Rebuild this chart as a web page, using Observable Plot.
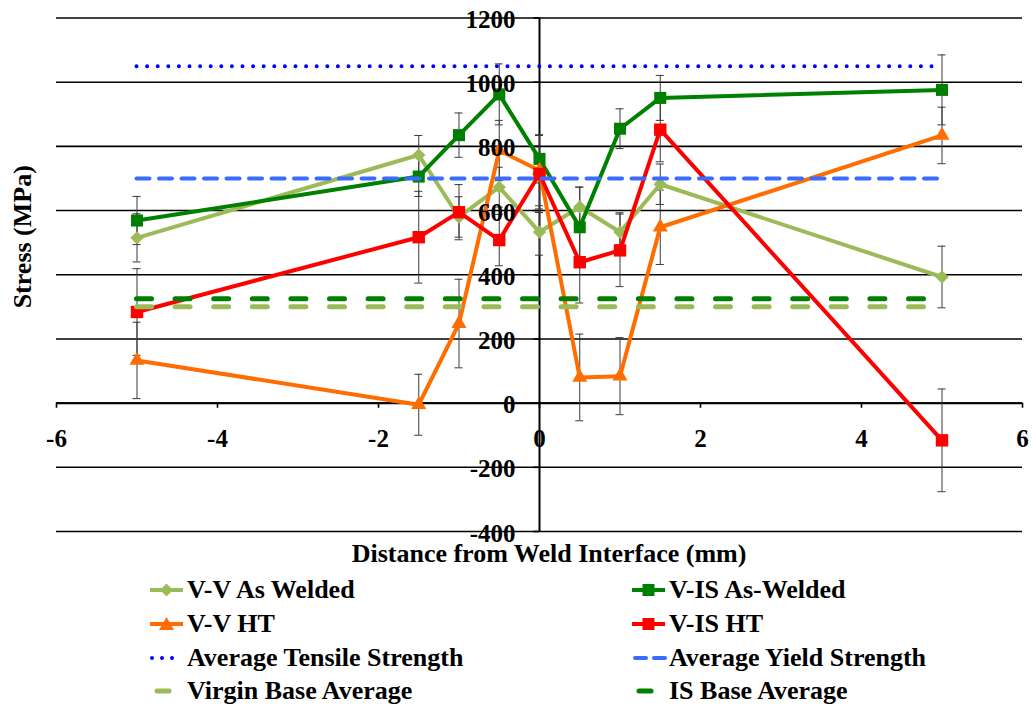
<!DOCTYPE html>
<html>
<head>
<meta charset="utf-8">
<script src="https://cdn.jsdelivr.net/npm/d3@7"></script>
<script src="https://cdn.jsdelivr.net/npm/@observablehq/plot@0.6"></script>
<style>
  html, body { margin: 0; padding: 0; background: #fff; }
  body { font-family: "Liberation Serif", "DejaVu Serif", serif; font-weight: bold; color: #000; }
  #wrap { position: relative; width: 1033px; height: 706px; overflow: hidden; }
  #chart { position: absolute; left: 0; top: 0; }
  #xtitle { position: absolute; left: 549px; top: 539px; transform: translateX(-50%); font-size: 26px; line-height: 30px; white-space: nowrap; }
  .leg { position: absolute; display: flex; align-items: center; height: 30px; font-size: 26px; line-height: 28px; white-space: nowrap; }
  .leg svg { display: block; margin-right: 2px; }
</style>
</head>
<body>
<div id="wrap">
  <div id="chart"></div>
  <div id="xtitle">Distance from Weld Interface (mm)</div>
  <div id="legend"></div>
</div>
<script>
// ---- data ----
const distances = [-5, -1.5, -1, -0.5, 0, 0.5, 1, 1.5, 5];

const vvAsWelded      = [515, 773, 580, 673, 533, 611, 533, 682, 393];
const vvAsWeldedErr   = [75, 61, 63, 62, 72, 62, 60, 63, 96];

const visAsWelded     = [569, 706, 835, 962, 761, 548, 855, 951, 976];
const visAsWeldedErr  = [75, 62, 69, 95, 75, 125, 62, 70, 109];

const vvHT            = [133, -5, 248, 787, 725, 80, 84, 548, 834];
const vvHTErr         = [119, 95, 138, 94, 110, 135, 120, 116, 88];

const visHT           = [284, 517, 595, 508, 714, 439, 476, 852, -116];
const visHTErr        = [135, 143, 86, 80, 120, 127, 113, 100, 160];

const referenceSpan   = [-5, 5];
const avgTensile      = 1050;
const avgYield        = 700;
const virginBaseAvg   = 300;
const isBaseAvg       = 325;

const xTicks = [-6, -4, -2, 0, 2, 4, 6];
const yTicks = [-400, -200, 0, 200, 400, 600, 800, 1000, 1200];

const seriesNames = ["V-V As Welded", "V-IS As-Welded", "V-V HT", "V-IS HT"];
const refNames = ["Average Tensile Strength", "Average Yield Strength", "Virgin Base Average", "IS Base Average"];

// ---- styles ----
const FONT = "'Liberation Serif', 'DejaVu Serif', serif";
const C = {
  lightGreen: "#9BBB59",
  darkGreen: "#008000",
  orange: "#FF6C00",
  red: "#FF0000",
  blue: "#0000FF",
  yieldBlue: "#3A6BFF"
};

function rows(vals, errs, name) {
  return distances.map((x, i) => ({x, y: vals[i], e: errs[i], s: name}));
}
const dVV = rows(vvAsWelded, vvAsWeldedErr, seriesNames[0]);
const dVIS = rows(visAsWelded, visAsWeldedErr, seriesNames[1]);
const dVVHT = rows(vvHT, vvHTErr, seriesNames[2]);
const dVISHT = rows(visHT, visHTErr, seriesNames[3]);

const seriesDefs = [
  {data: dVV, color: C.lightGreen, symbol: "diamond2", r: 6},
  {data: dVIS, color: C.darkGreen, symbol: "square", r: 6.8},
  {data: dVVHT, color: C.orange, symbol: "triangle", r: 5.6},
  {data: dVISHT, color: C.red, symbol: "square", r: 7}
];

const capHalf = 0.05;
const errMarks = [];
for (const s of seriesDefs) {
  errMarks.push(Plot.ruleX(s.data, {x: "x", y1: d => d.y - d.e, y2: d => d.y + d.e, stroke: "#3a3a3a", strokeWidth: 1}));
  errMarks.push(Plot.ruleY(s.data, {y: d => d.y + d.e, x1: d => d.x - capHalf, x2: d => d.x + capHalf, stroke: "#3a3a3a", strokeWidth: 1}));
  errMarks.push(Plot.ruleY(s.data, {y: d => d.y - d.e, x1: d => d.x - capHalf, x2: d => d.x + capHalf, stroke: "#3a3a3a", strokeWidth: 1}));
}
const lineMarks = [];
for (const s of seriesDefs) {
  lineMarks.push(Plot.line(s.data, {x: "x", y: "y", stroke: s.color, strokeWidth: 4, strokeLinejoin: "round"}));
  lineMarks.push(Plot.dot(s.data, {x: "x", y: "y", symbol: () => s.symbol, r: s.r, fill: s.color, stroke: "none"}));
}

const refMarks = [
  Plot.ruleY([avgTensile], {x1: referenceSpan[0], x2: referenceSpan[1], stroke: C.blue, strokeWidth: 4, strokeDasharray: "0 10.6", strokeLinecap: "round"}),
  Plot.ruleY([avgYield], {x1: referenceSpan[0], x2: referenceSpan[1], stroke: C.yieldBlue, strokeWidth: 4, strokeDasharray: "13 9.5", strokeLinecap: "round"}),
  Plot.ruleY([virginBaseAvg], {x1: referenceSpan[0], x2: referenceSpan[1], stroke: C.lightGreen, strokeWidth: 5, strokeDasharray: "15 23.6", strokeLinecap: "round"}),
  Plot.ruleY([isBaseAvg], {x1: referenceSpan[0], x2: referenceSpan[1], stroke: C.darkGreen, strokeWidth: 5, strokeDasharray: "15 23.6", strokeLinecap: "round"})
];

const chart = Plot.plot({
  width: 1033,
  height: 540,
  marginLeft: 56,
  marginRight: 11,
  marginTop: 17.5,
  marginBottom: 9,
  style: {fontFamily: FONT, fontWeight: "bold", background: "white", overflow: "visible"},
  x: {domain: [xTicks[0], xTicks[xTicks.length - 1]], axis: null},
  y: {domain: [yTicks[0], yTicks[yTicks.length - 1]], axis: null},
  marks: [
    Plot.ruleY(yTicks, {y: d => d, x1: xTicks[0], x2: xTicks[xTicks.length - 1], stroke: "#000", strokeWidth: 1.6}),
    Plot.ruleX([0], {x: d => d, y1: yTicks[0], y2: yTicks[yTicks.length - 1], stroke: "#000", strokeWidth: 2}),
    Plot.ruleY([0], {y: d => d, x1: xTicks[0], x2: xTicks[xTicks.length - 1], stroke: "#000", strokeWidth: 2}),
    Plot.ruleX(xTicks, {x: d => d, y1: 0, y2: -16, stroke: "#000", strokeWidth: 1.6}),
    Plot.ruleY(yTicks, {y: d => d, x1: -0.07, x2: 0, stroke: "#000", strokeWidth: 1.6}),
    ...errMarks,
    ...lineMarks,
    ...refMarks,
    Plot.text(yTicks, {x: 0, y: d => d, text: d => String(d), textAnchor: "end", dx: -24, dy: 2, fontSize: 25, fontWeight: "bold", fill: "#000", fontFamily: FONT}),
    Plot.text(xTicks, {x: d => d, y: 0, text: d => String(d), dy: 36, fontSize: 25, fontWeight: "bold", fill: "#000", fontFamily: FONT}),
    Plot.text(["Stress (MPa)"], {frameAnchor: "left", textAnchor: "middle", text: d => d, rotate: -90, dx: -34, dy: -38, fontSize: 26, fontWeight: "bold", fill: "#000", fontFamily: FONT})
  ]
});
document.getElementById("chart").appendChild(chart);

// ---- legend ----
const legendItems = [
  {name: seriesNames[0], kind: "marker", color: C.lightGreen, symbol: "diamond"},
  {name: seriesNames[1], kind: "marker", color: C.darkGreen, symbol: "square"},
  {name: seriesNames[2], kind: "marker", color: C.orange, symbol: "triangle"},
  {name: seriesNames[3], kind: "marker", color: C.red, symbol: "square"},
  {name: refNames[0], kind: "dots", color: C.blue},
  {name: refNames[1], kind: "dashes", color: C.yieldBlue},
  {name: refNames[2], kind: "short", color: C.lightGreen},
  {name: refNames[3], kind: "short", color: C.darkGreen}
];
const colLeft = [148, 630];
const rowCenter = [590, 624, 658, 691];
const legend = document.getElementById("legend");
legendItems.forEach((it, i) => {
  const col = i % 2, row = Math.floor(i / 2);
  const div = document.createElement("div");
  div.className = "leg";
  div.style.left = colLeft[col] + "px";
  div.style.top = (rowCenter[row] - 15) + "px";
  const ns = "http://www.w3.org/2000/svg";
  const svg = document.createElementNS(ns, "svg");
  svg.setAttribute("width", 37); svg.setAttribute("height", 20);
  const add = (tag, attrs) => { const e = document.createElementNS(ns, tag); for (const k in attrs) e.setAttribute(k, attrs[k]); svg.appendChild(e); return e; };
  if (it.kind === "marker") {
    add("line", {x1: 2, x2: 35, y1: 10, y2: 10, stroke: it.color, "stroke-width": 4});
    if (it.symbol === "square") add("rect", {x: 12.5, y: 4, width: 12, height: 12, fill: it.color});
    if (it.symbol === "diamond") add("path", {d: "M18.5,3.5L25,10L18.5,16.5L12,10Z", fill: it.color});
    if (it.symbol === "triangle") add("path", {d: "M18.5,3L26,16L11,16Z", fill: it.color});
  } else if (it.kind === "dots") {
    add("line", {x1: 4, x2: 34, y1: 10, y2: 10, stroke: it.color, "stroke-width": 4, "stroke-dasharray": "0 10", "stroke-linecap": "round"});
  } else if (it.kind === "dashes") {
    add("line", {x1: 5, x2: 35, y1: 10, y2: 10, stroke: it.color, "stroke-width": 4, "stroke-dasharray": "11 8", "stroke-linecap": "round"});
  } else {
    add("line", {x1: 9, x2: 21, y1: 10, y2: 10, stroke: it.color, "stroke-width": 5, "stroke-linecap": "round"});
  }
  div.appendChild(svg);
  const span = document.createElement("span");
  span.textContent = it.name;
  div.appendChild(span);
  legend.appendChild(div);
});
</script>
</body>
</html>
